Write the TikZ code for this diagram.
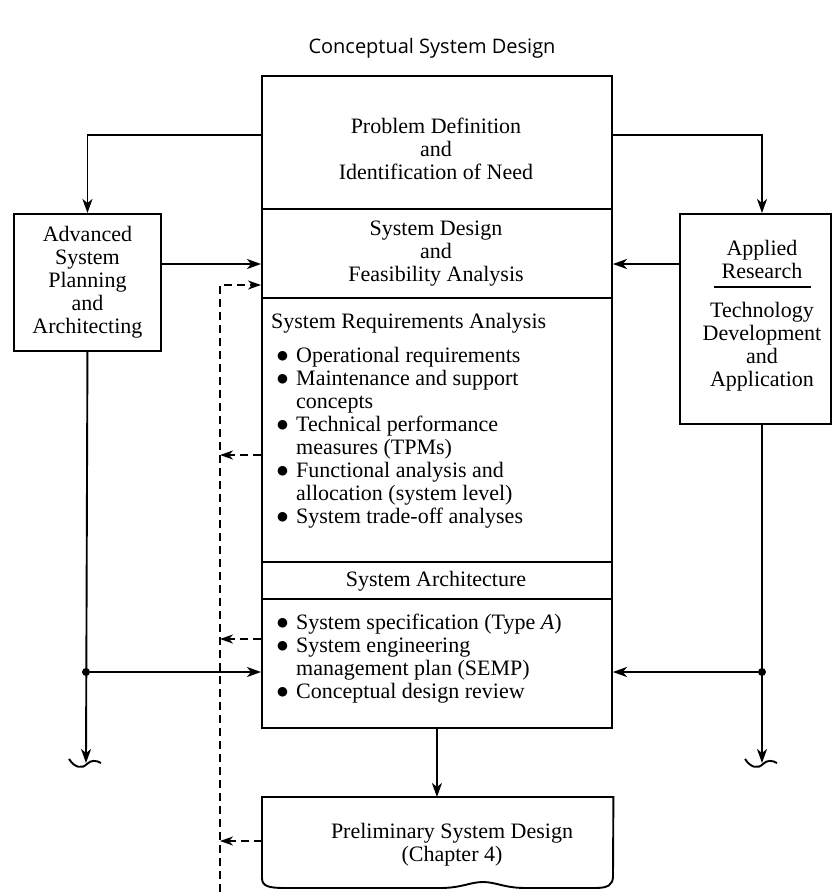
\documentclass[tikz,border=0pt]{standalone}
\usepackage{fontspec}
\setmainfont{Liberation Serif}
\newfontfamily\titlefont{Open Sans}
\newfontfamily\dotfont{DejaVu Sans}
\usetikzlibrary{arrows.meta}
% list bullet
\newcommand\blt{\raisebox{2.6pt}{\dotfont\fontsize{12.5}{12.5}\selectfont ●}}
\begin{document}
\begin{tikzpicture}[x=1pt,y=-1pt,
  every node/.style={font=\fontsize{22}{23}\selectfont, inner sep=0pt},
  frame/.style={draw, line width=1.9pt, rectangle, inner sep=0pt},
  rule/.style={line width=1.1pt},
  wire/.style={line width=1.9pt},
  flow/.style={line width=1.9pt, -{Stealth[length=14pt,width=10pt,inset=4pt]}},
  feedback/.style={line width=1.9pt, dash pattern=on 8pt off 5pt,
                   -{Stealth[length=13pt,width=9pt,inset=4pt]}},
  txt/.style={align=center},
  joint/.style={circle, fill, inner sep=0pt, minimum size=8pt}
]
\useasboundingbox (0,0) rectangle (834,892);

% title
\node[font=\titlefont\fontsize{20}{24}\selectfont] (title) at (432,48) {Conceptual System Design};

% main column
\node[frame, anchor=north west, minimum width=350pt, minimum height=652pt] (main) at (261,75) {};
\draw[rule] (main.west |- 0,209) -- (main.east |- 0,209);
\draw[rule] (main.west |- 0,298) -- (main.east |- 0,298);
\draw[rule] (main.west |- 0,562) -- (main.east |- 0,562);
\draw[rule] (main.west |- 0,599) -- (main.east |- 0,599);

\node[txt] (need) at (436,149) {Problem Definition\\and\\Identification of Need};
\node[txt] (feas) at (436,254) {System Design\\and\\Feasibility Analysis};
\node[anchor=base west] (reqhead) at (271,328) {System Requirements Analysis};
\node[anchor=base west] (reqlist) at (277,362) {%
  \begin{tabular}[t]{@{}p{19pt}@{}l@{}}
  \blt & Operational requirements\\
  \blt & Maintenance and support\\
       & concepts\\
  \blt & Technical performance\\
       & measures (TPMs)\\
  \blt & Functional analysis and\\
       & allocation (system level)\\
  \blt & System trade-off analyses
  \end{tabular}};
\node[txt] (arch) at (436,581) {System Architecture};
\node[anchor=base west] (archlist) at (277,629) {%
  \begin{tabular}[t]{@{}p{19pt}@{}l@{}}
  \blt & System specification (Type \textit{A})\\
  \blt & System engineering\\
       & management plan (SEMP)\\
  \blt & Conceptual design review
  \end{tabular}};

% side boxes
\node[frame, anchor=north west, minimum width=147pt, minimum height=137pt] (adv) at (13,213) {};
\node[txt] (advtext) at (adv.center) {Advanced\\System\\Planning\\and\\Architecting};

\node[frame, anchor=north west, minimum width=151pt, minimum height=210pt] (app) at (679,213) {};
\node[txt] (research) at (762,259) {Applied\\Research};
\draw[rule] (714,287) -- (811,287);
\node[txt] (techdev) at (762,347) {Technology\\Development\\and\\Application};

% document-shaped box for the next phase
\node[anchor=north west, minimum width=351pt, minimum height=91pt] (prelim) at (262,797) {};
\draw[wire] (prelim.north west) -- (262,878)
  .. controls (262,886) and (268,888) .. (285,888) -- (440,888)
  .. controls (462,888) and (470,882) .. (483,882)
  .. controls (496,882) and (504,888) .. (526,888) -- (595,888)
  .. controls (608,888) and (613,885) .. (613,876)
  -- (prelim.north east) -- cycle;
\node[txt] (prelimtext) at (452,845) {Preliminary System Design\\(Chapter 4)};

% column coordinates
\coordinate (rcol) at (762,0);
\coordinate (fb) at (220,285);
\coordinate (lend) at (86,763);
\coordinate (rend) at (762,763);

% top outputs
\draw[flow] (main.west |- 0,135) -| (adv.north);
\draw[flow] (main.east |- 0,135) -| (app.north -| rcol);

% inputs to feasibility analysis
\draw[flow] (adv.east |- 0,264) -- (main.west |- 0,264);
\draw[flow] (app.west |- 0,264) -- (main.east |- 0,264);

% feedback loop
\draw[feedback] (fb |- 0,892) -- (fb) -- (main.west |- fb);
\draw[feedback] (main.west |- 0,455) -- (fb |- 0,455);
\draw[feedback] (main.west |- 0,639) -- (fb |- 0,639);
\draw[feedback] (prelim.west |- 0,841) -- (fb |- 0,841);

% side columns continuing downward
\draw[flow] (adv.south) -- (lend);
\draw[flow] (app.south -| rcol) -- (rend);
\node[joint] (ljoint) at (86,672) {};
\node[joint] (rjoint) at (762,672) {};
\draw[flow] (ljoint) -- (main.west |- ljoint);
\draw[flow] (rjoint) -- (main.east |- rjoint);

% continuation marks
\draw[wire] (69,759) .. controls (75,768) and (82,769) .. (87,764)
  .. controls (91,760) and (96,760) .. (101,763);
\draw[wire] (745,759) .. controls (751,768) and (758,769) .. (763,764)
  .. controls (767,760) and (772,760) .. (777,763);

% to the next phase
\draw[flow] (main.south) -- (prelim.north -| main.south);
\end{tikzpicture}
\end{document}
